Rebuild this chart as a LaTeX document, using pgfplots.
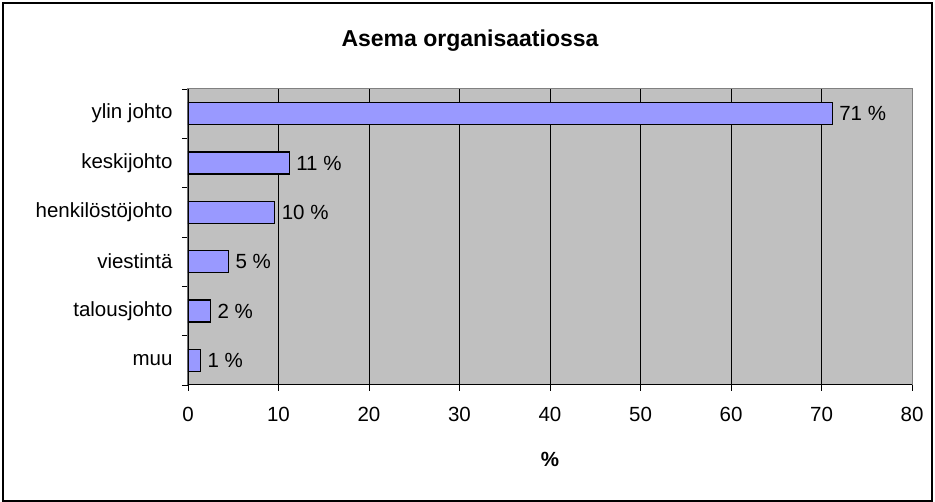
\documentclass[border=0pt]{standalone}
\usepackage{pgfplots}
\pgfplotsset{compat=1.18}
\usepackage{fontspec}
\setmainfont{Liberation Sans}
\definecolor{barfill}{HTML}{9999FF}
\definecolor{plotbg}{HTML}{C0C0C0}
\definecolor{axgray}{HTML}{808080}
\begin{document}
\begin{tikzpicture}[x=1pt,y=1pt]
\useasboundingbox (0,0) rectangle (935,502);
\draw[line width=2pt] (3,1) rectangle (932,499);
\node[font=\fontsize{23}{27}\selectfont\bfseries] at (470,461) {Asema organisaatiossa};
\begin{axis}[
  at={(188pt,117pt)}, anchor=south west,
  scale only axis, width=724pt, height=296pt,
  xmin=0, xmax=80, ymin=-0.5, ymax=5.5,
  axis background/.style={fill=plotbg},
  axis line style={axgray, line width=1pt},
  xtick={0,10,...,80},
  ytick={0,...,5},
  yticklabels={muu, talousjohto, viestintä, henkilöstöjohto, keskijohto, ylin johto},
  minor ytick={-0.5,0.5,...,5.5},
  xtick pos=bottom, ytick pos=left,
  tick align=outside,
  major tick length=6pt, minor tick length=6pt,
  every major y tick/.append style={draw=none},
  every tick/.append style={black, line width=0.8pt},
  xmajorgrids,
  major grid style={black, line width=0.8pt},
  /pgf/number format/assume math mode=true,
  tick label style={font=\fontsize{20.5}{24}\selectfont},
  yticklabel style={xshift=-6pt},
  xticklabel style={yshift=-13pt},
  xlabel={\%},
  every axis x label/.style={at={(rel axis cs:0.5,0)}, yshift=-74pt, anchor=center, font=\fontsize{20.5}{24}\selectfont\bfseries},
  point meta=explicit symbolic,
  nodes near coords,
  every node near coord/.append style={anchor=west, xshift=3pt, font=\fontsize{20.5}{24}\selectfont},
]
\addplot[xbar, fill=barfill, draw=black, line width=1.2pt, bar width=22pt]
  coordinates {(1.4,0) [1 \%] (2.5,1) [2 \%] (4.5,2) [5 \%] (9.6,3) [10 \%] (11.2,4) [11 \%] (71.2,5) [71 \%]};
\draw[black, line width=1pt] (rel axis cs:0,1) -- (rel axis cs:0,0) -- (rel axis cs:1,0);
\end{axis}
\end{tikzpicture}
\end{document}
